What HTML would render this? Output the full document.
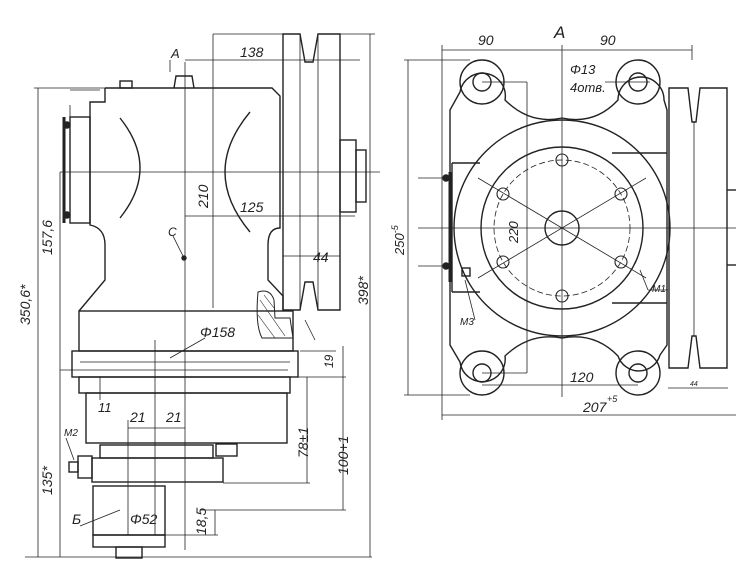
<!DOCTYPE html>
<html><head><meta charset="utf-8"><style>
html,body{margin:0;padding:0;background:#fff;}
svg{display:block}
text{font-family:"Liberation Sans",sans-serif;font-style:italic;fill:#222;}
</style></head><body>
<svg width="736" height="586" viewBox="0 0 736 586" xmlns="http://www.w3.org/2000/svg">
<g fill="none" stroke="#222" stroke-width="1.4">
<path d="M283,34 L300,34 L305,62 L313,62 L318,34 L340,34 L340,310 L318,310 L313,282 L305,282 L300,310 L283,310 Z"/>
<line x1="300" y1="34" x2="300" y2="310" stroke-width="0.8"/>
<line x1="318" y1="34" x2="318" y2="310" stroke-width="0.8"/>
<rect x="340" y="140" width="16" height="72"/>
<rect x="356" y="150" width="10" height="52"/>
<path d="M105,88 L272,88 L280,96 L280,228 Q268,228 268,245 L268,280 L283,296 L283,311"/>
<path d="M105,88 L105,102 L90,102 L90,225 Q105,228 105,245 L105,280 L79,311"/>
<rect x="70" y="117" width="20" height="106"/>
<line x1="64" y1="117" x2="64" y2="223" stroke-width="3"/>
<circle cx="67" cy="125" r="3" fill="#222"/><circle cx="67" cy="215" r="3" fill="#222"/>
<path d="M120,118 Q160,168 120,218"/>
<path d="M250,112 Q200,172 250,232"/>
<rect x="120" y="81" width="12" height="7"/>
<path d="M174,88 L176,76 L192,76 L194,88"/>
<rect x="79" y="311" width="214" height="40"/>
<path d="M258,292 Q270,288 274,300 L275,318 L290,318 L293,338 L262,338 Q255,325 258,292 Z" stroke-width="1"/>
<path d="M260,300 L285,336 M258,315 L275,338 M264,295 L274,308" stroke-width="0.6"/>
<rect x="72" y="351" width="226" height="26"/>
<line x1="80" y1="362" x2="290" y2="362" stroke-width="0.8"/>
<rect x="79" y="377" width="211" height="16"/>
<rect x="86" y="393" width="201" height="50"/>
<rect x="100" y="445" width="113" height="13"/>
<rect x="92" y="458" width="131" height="24"/>
<rect x="78" y="456" width="14" height="22"/>
<rect x="69" y="462" width="9" height="10"/>
<rect x="216" y="444" width="21" height="12"/>
<rect x="93" y="486" width="72" height="49"/>
<rect x="93" y="535" width="72" height="12"/>
<rect x="116" y="547" width="26" height="11"/>
<g stroke-width="0.8">
<line x1="185" y1="62" x2="185" y2="550"/>
<line x1="155" y1="340" x2="155" y2="535"/>
<line x1="128" y1="420" x2="128" y2="535"/>
<line x1="213" y1="34" x2="213" y2="308"/>
<line x1="213" y1="34" x2="283" y2="34"/>
<line x1="185" y1="60" x2="360" y2="60"/>
<line x1="60" y1="172" x2="380" y2="172"/>
<line x1="185" y1="216" x2="355" y2="216"/>
<line x1="283" y1="256" x2="340" y2="256"/>
<line x1="38" y1="88" x2="38" y2="557"/><line x1="34" y1="88" x2="105" y2="88"/>
<line x1="60" y1="172" x2="60" y2="557"/>
<line x1="60" y1="370" x2="80" y2="370"/>
<line x1="25" y1="557" x2="372" y2="557"/>
<line x1="370" y1="34" x2="370" y2="557"/><line x1="340" y1="34" x2="375" y2="34"/>
<line x1="307" y1="377" x2="307" y2="483"/><line x1="223" y1="483" x2="310" y2="483"/>
<line x1="343" y1="346" x2="343" y2="510"/><line x1="200" y1="510" x2="346" y2="510"/>
<line x1="290" y1="377" x2="346" y2="377"/>
<line x1="215" y1="510" x2="215" y2="535"/><line x1="165" y1="535" x2="218" y2="535"/>
<line x1="128" y1="428" x2="185" y2="428"/>
<line x1="80" y1="370" x2="288" y2="370"/>
<line x1="100" y1="377" x2="100" y2="400"/>
<line x1="170" y1="358" x2="205" y2="338"/>
<line x1="173" y1="236" x2="183" y2="256"/>
<line x1="70" y1="90" x2="100" y2="90"/>
<line x1="70" y1="120" x2="70" y2="105"/>
<line x1="80" y1="526" x2="120" y2="510"/>
<line x1="66" y1="438" x2="74" y2="460"/>
<line x1="305" y1="320" x2="315" y2="340"/>
<line x1="300" y1="351" x2="336" y2="351"/>
<line x1="170" y1="60" x2="170" y2="72"/>
</g>
<circle cx="184" cy="258" r="2" fill="#222"/>

<path d="M450,110 L460,92 A22,22 0 0 1 505,100 Q530,125 562,118 Q595,125 618,100 A22,22 0 0 1 664,100 L667,110 L667,345 L660,355 A22,22 0 0 1 618,356 Q595,332 562,338 Q530,332 505,356 A22,22 0 0 1 460,362 L450,345 Z"/>
<circle cx="482" cy="82" r="22"/><circle cx="638" cy="82" r="22"/>
<circle cx="482" cy="373" r="22"/><circle cx="638" cy="373" r="22"/>
<circle cx="482" cy="82" r="9"/><circle cx="638" cy="82" r="9"/>
<circle cx="482" cy="373" r="9"/><circle cx="638" cy="373" r="9"/>
<circle cx="562" cy="228" r="108"/>
<circle cx="562" cy="228" r="81"/>
<circle cx="562" cy="228" r="68" stroke-dasharray="6 3" stroke-width="0.8"/>
<circle cx="562" cy="228" r="17"/>
<g stroke-width="1.1">
<circle cx="562" cy="160" r="6"/><circle cx="562" cy="296" r="6"/>
<circle cx="503" cy="194" r="6"/><circle cx="621" cy="194" r="6"/>
<circle cx="503" cy="262" r="6"/><circle cx="621" cy="262" r="6"/>
</g>
<line x1="452" y1="163" x2="480" y2="163"/><line x1="452" y1="292" x2="480" y2="292"/>
<line x1="452" y1="163" x2="452" y2="292"/>
<line x1="612" y1="153" x2="667" y2="153"/><line x1="612" y1="303" x2="667" y2="303"/>
<line x1="450" y1="172" x2="450" y2="282" stroke-width="3"/>
<circle cx="446" cy="178" r="3" fill="#222"/><circle cx="446" cy="266" r="3" fill="#222"/>
<rect x="462" y="268" width="8" height="8"/>
<path d="M669,88 L688,88 L692,122 L696,122 L700,88 L727,88 L727,368 L700,368 L696,336 L692,336 L688,368 L669,368 Z"/>
<line x1="694" y1="122" x2="694" y2="336" stroke-width="0.8"/>
<line x1="727" y1="190" x2="736" y2="190"/><line x1="727" y1="265" x2="736" y2="265"/>
<g stroke-width="0.8">
<line x1="562" y1="45" x2="562" y2="397"/>
<line x1="418" y1="228" x2="736" y2="228"/>
<line x1="442" y1="50" x2="692" y2="50"/>
<line x1="442" y1="45" x2="442" y2="420"/><line x1="692" y1="45" x2="692" y2="60"/>
<line x1="408" y1="60" x2="408" y2="395"/><line x1="404" y1="60" x2="470" y2="60"/><line x1="404" y1="395" x2="470" y2="395"/>
<line x1="442" y1="415" x2="736" y2="415"/>
<line x1="482" y1="385" x2="638" y2="385"/>
<line x1="668" y1="388" x2="728" y2="388"/>
<line x1="527" y1="82" x2="527" y2="373"/>
<line x1="482" y1="82" x2="527" y2="82"/><line x1="482" y1="373" x2="527" y2="373"/>
<line x1="478" y1="178" x2="646" y2="278"/><line x1="478" y1="278" x2="646" y2="178"/>
<line x1="605" y1="82" x2="650" y2="82"/>
<line x1="640" y1="270" x2="648" y2="290"/><line x1="648" y1="290" x2="668" y2="290"/>
<line x1="465" y1="280" x2="475" y2="320"/>
<line x1="418" y1="178" x2="446" y2="178"/><line x1="418" y1="266" x2="446" y2="266"/>
</g>
</g>
<g font-size="14">
<text x="240" y="57">138</text>
<text x="171" y="58" font-style="normal" font-size="13">A</text>
<text x="240" y="212">125</text>
<text x="168" y="236" font-size="12">C</text>
<text x="313" y="262">44</text>
<text x="200" y="337">Φ158</text>
<text x="98" y="412" font-size="13">11</text>
<text x="130" y="422">21</text>
<text x="166" y="422">21</text>
<text x="64" y="436" font-size="10">M2</text>
<text x="72" y="524">Б</text>
<text x="130" y="524">Φ52</text>
<text transform="translate(208,208) rotate(-90)">210</text>
<text transform="translate(52,255) rotate(-90)">157,6</text>
<text transform="translate(30,325) rotate(-90)">350,6*</text>
<text transform="translate(368,305) rotate(-90)">398*</text>
<text transform="translate(333,368) rotate(-90)" font-size="12">19</text>
<text transform="translate(308,458) rotate(-90)">78±1</text>
<text transform="translate(348,475) rotate(-90)">100+1</text>
<text transform="translate(52,495) rotate(-90)">135*</text>
<text transform="translate(206,535) rotate(-90)">18,5</text>
<text x="478" y="45">90</text>
<text x="600" y="45">90</text>
<text x="554" y="38" font-style="normal" font-size="17">A</text>
<text x="570" y="74" font-size="13">Φ13</text>
<text x="570" y="92" font-size="13">4отв.</text>
<text transform="translate(518,243) rotate(-90)" font-size="13">220</text>
<text x="570" y="382">120</text>
<text x="583" y="412">207</text><text x="607" y="402" font-size="9">+5</text>
<text x="652" y="292" font-size="10">M1</text>
<text x="460" y="325" font-size="10">M3</text>
<text x="690" y="386" font-size="7">44</text>
<text transform="translate(404,255) rotate(-90)" font-size="13">250<tspan font-size="9" dy="-6">-5</tspan></text>
</g>
</svg>
</body></html>
